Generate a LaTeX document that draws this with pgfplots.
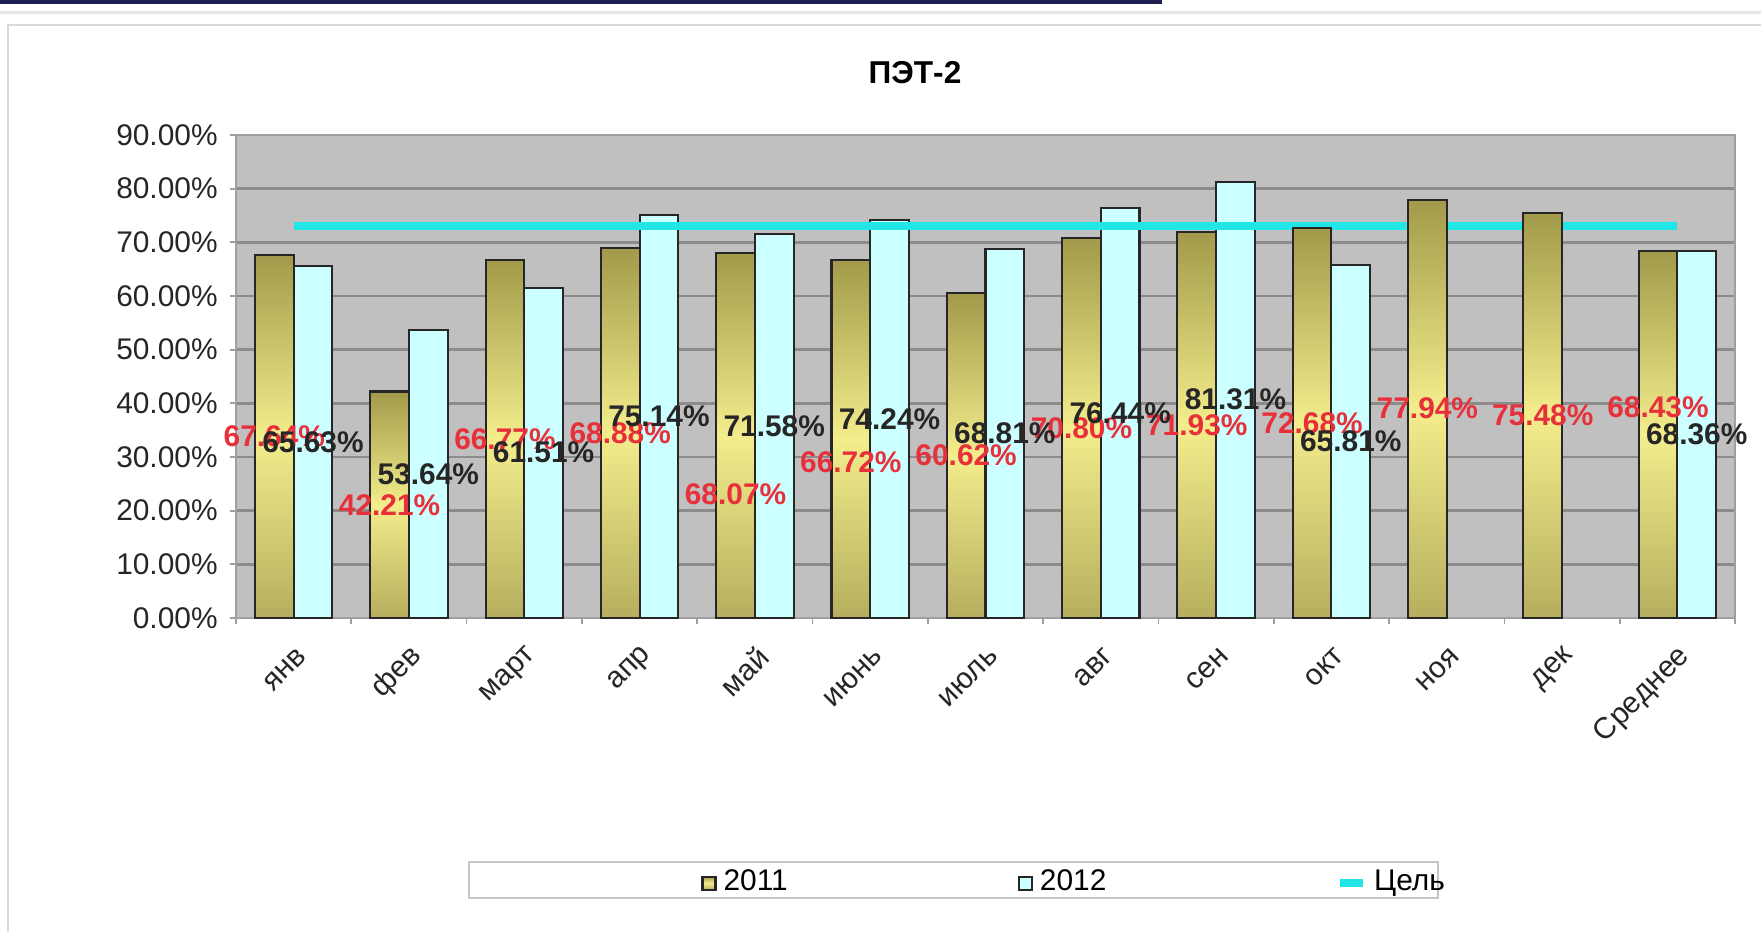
\documentclass[border=0pt]{standalone}
\usepackage{fontspec}
\setmainfont{Liberation Sans}
\usepackage{pgfplots}
\usepackage{pgfplotstable}
\pgfplotsset{compat=1.18}

\definecolor{plotbg}{HTML}{C0C0C0}
\definecolor{gridc}{HTML}{8C8C8C}
\definecolor{olivedark}{HTML}{A29A4A}
\definecolor{olivelight}{HTML}{F3ED8C}
\definecolor{olivebottom}{HTML}{B6AE5E}
\definecolor{barcyan}{HTML}{CCFFFF}
\definecolor{goalcyan}{HTML}{22E6E6}
\definecolor{labred}{HTML}{E8303A}
\definecolor{navyband}{HTML}{1E1E50}

\pgfplotsset{
  sqlegend/.style={legend image code/.code={\draw[##1] (0mm,-0.65mm) rectangle (1.3mm,0.65mm);}},
  linelegend/.style={legend image code/.code={\draw[##1] (0mm,0mm) -- (2.3mm,0mm);}},
}

% 2011: value y, height of its data label ly
\pgfplotstableread{
x y ly
0 67.64 33.8
1 42.21 21.1
2 66.77 33.4
3 68.88 34.4
4 68.07 23.0
5 66.72 29.1
6 60.62 30.3
7 70.80 35.4
8 71.93 36.0
9 72.68 36.3
10 77.94 39.0
11 75.48 37.7
12 68.43 39.3
}\tblA
% 2012 (no data for ноя, дек)
\pgfplotstableread{
x y ly
0 65.63 32.8
1 53.64 26.8
2 61.51 30.8
3 75.14 37.6
4 71.58 35.8
5 74.24 37.1
6 68.81 34.4
7 76.44 38.2
8 81.31 40.7
9 65.81 32.9
12 68.36 34.2
}\tblB
% Цель
\pgfplotstableread{
x y
0 73
1 73
2 73
3 73
4 73
5 73
6 73
7 73
8 73
9 73
10 73
11 73
12 73
}\tblGoal

\newcommand{\lblfont}{\fontsize{8.5}{10}\selectfont}

\begin{document}
\begin{tikzpicture}
\useasboundingbox (0,0) rectangle (176.1mm,93.2mm);
\fill[white] (0,0) rectangle (176.1mm,93.2mm);
\fill[navyband] (0,92.8mm) rectangle (116.2mm,93.2mm);
\draw[gray!20, line width=0.3mm] (0,91.9mm) -- (176.1mm,91.9mm);
\draw[gray!30, line width=0.2mm] (0.8mm,0) -- (0.8mm,90.7mm) -- (176.1mm,90.7mm);
% legend frame
\draw[gray!45, line width=0.2mm] (46.9mm,3.4mm) rectangle (143.8mm,7.0mm);
\node[font=\bfseries\fontsize{9}{11}\selectfont] at (91.5mm,85.9mm) {ПЭТ-2};

\begin{axis}[
    at={(23.6mm,31.4mm)}, anchor=south west,
    scale only axis,
    width=149.9mm, height=48.3mm,
    xmin=-0.5, xmax=12.5,
    ymin=0, ymax=90,
    /pgf/number format/assume math mode=true,
    axis background/.style={fill=plotbg},
    axis line style={gray!75, line width=0.5pt},
    tick style={gray!75, line width=0.5pt},
    tick align=outside,
    tick pos=left,
    major tick length=0.6mm,
    ytick={0,10,...,90},
    yticklabel={\pgfmathprintnumber[fixed,fixed zerofill,precision=2]{\tick}\%},
    yticklabel style={font=\lblfont, text=black!85},
    ymajorgrids,
    major grid style={gridc, line width=0.8pt},
    xtick={-0.5,0.5,...,12.5},
    xticklabels={},
    extra x ticks={0,...,12},
    extra x tick labels={янв,фев,март,апр,май,июнь,июль,авг,сен,окт,ноя,дек,Среднее},
    extra x tick style={major tick length=0pt, grid=none,
        xticklabel style={font=\lblfont, text=black!85, rotate=45, anchor=east, xshift=-0.6mm, yshift=-3.0mm}},
    bar width=3.87mm,
    legend columns=3,
    legend style={draw=none, fill=none, font=\lblfont,
        at={(0.303,-0.549)}, anchor=west,
        /tikz/every even column/.append style={column sep=22.3mm}},
]
\addplot[ybar, bar shift=-1.935mm, draw=black!85, line width=0.6pt, fill=olivedark,
    top color=olivedark, bottom color=olivebottom, middle color=olivelight,
    sqlegend]
    table[x=x,y=y] {\tblA};
\addlegendentry{2011}
% gradient face of each 2011 bar, one node per data point
\addplot[ybar, bar shift=-1.935mm, draw=none, fill=none, forget plot,
    visualization depends on={rawy \as \rawy},
    nodes near coords={\mbox{}},
    every node near coord/.append style={anchor=north, inner sep=0pt, outer sep=0pt,
        xshift=-1.935mm, minimum width=3.87mm, minimum height={\rawy*0.536667mm},
        draw=black!85, line width=0.6pt,
        top color=olivedark, bottom color=olivebottom, middle color=olivelight}]
    table[x=x,y=y] {\tblA};
\addplot[ybar, bar shift=1.935mm, draw=black!85, line width=0.6pt, fill=barcyan,
    sqlegend]
    table[x=x,y=y] {\tblB};
\addlegendentry{2012}
\addplot[goalcyan, line width=2.2pt, mark=none, linelegend]
    table[x=x,y=y] {\tblGoal};
\addlegendentry{Цель}
% data labels: text from y, placed at height ly
\addplot[only marks, mark=none, forget plot,
    point meta=explicit,
    nodes near coords={\pgfmathprintnumber[fixed,fixed zerofill,precision=2]{\pgfplotspointmeta}\%},
    every node near coord/.append style={font=\bfseries\lblfont, text=labred,
        anchor=center, xshift=-1.935mm}]
    table[x=x,y=ly,meta=y] {\tblA};
\addplot[only marks, mark=none, forget plot,
    point meta=explicit,
    nodes near coords={\pgfmathprintnumber[fixed,fixed zerofill,precision=2]{\pgfplotspointmeta}\%},
    every node near coord/.append style={font=\bfseries\lblfont, text=black!85,
        anchor=center, xshift=1.935mm}]
    table[x=x,y=ly,meta=y] {\tblB};
\end{axis}
\end{tikzpicture}
\end{document}
